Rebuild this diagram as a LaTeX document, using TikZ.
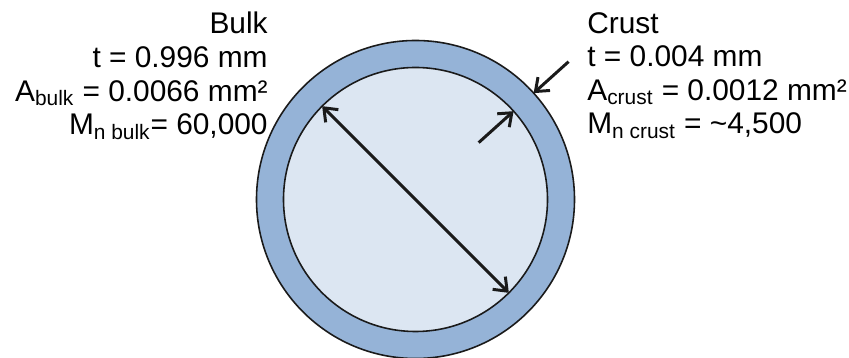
\documentclass[tikz,border=0pt]{standalone}
\usepackage{fontspec}
\setmainfont{Liberation Sans}
\usepackage{tikz}
\usetikzlibrary{arrows.meta,calc}
\definecolor{ink}{HTML}{1A1A1A}
\definecolor{paper}{HTML}{FFFFFF}
\definecolor{crustblue}{HTML}{95B3D7}
\definecolor{bulkblue}{HTML}{DCE6F2}
\tikzset{
  ringcard/.style={circle,draw=ink,line width=0.9pt,outer sep=0pt,inner sep=0pt},
  dimarr/.style={-{Straight Barb[length=0.23cm,width=0.36cm,line width=1.7pt]},line width=1.7pt,color=ink},
  dimarrboth/.style={{Straight Barb[length=0.23cm,width=0.36cm,line width=1.7pt]}-{Straight Barb[length=0.23cm,width=0.36cm,line width=1.7pt]},line width=1.7pt,color=ink},
  propstext/.style={inner sep=0pt,font=\fontsize{17pt}{19.1pt}\selectfont}
}
\begin{document}
\begin{tikzpicture}[x=0.02cm,y=0.02cm,>=Latex]
  \useasboundingbox[fill=paper] (0,0) rectangle (849,358);
  \coordinate (c) at (415.5,158.5);

  \node[ringcard,fill=crustblue,minimum size=318*0.02cm] (shell) at (c) {};
  \node[ringcard,fill=bulkblue,minimum size=264*0.02cm] (core) at (c) {};

  \coordinate (crustout) at ($(c)+(42:206)$);
  \coordinate (crustin) at ($(c)+(42:85)$);

  \draw[dimarrboth] (core.135) -- (core.-45);
  \draw[dimarr] (crustout) -- (shell.42);
  \draw[dimarr] (crustin) -- (core.42);

  \node[propstext,align=right,anchor=north east] (bulk) at (268,346)
    {Bulk\\t = 0.996 mm\\A\textsubscript{bulk} = 0.0066 mm²\\M\textsubscript{n bulk}= 60,000};
  \node[propstext,align=left,anchor=north west] (crust) at (587,346)
    {Crust\\t = 0.004 mm\\A\textsubscript{crust} = 0.0012 mm²\\M\textsubscript{n crust} = \textasciitilde 4,500};
\end{tikzpicture}
\end{document}
